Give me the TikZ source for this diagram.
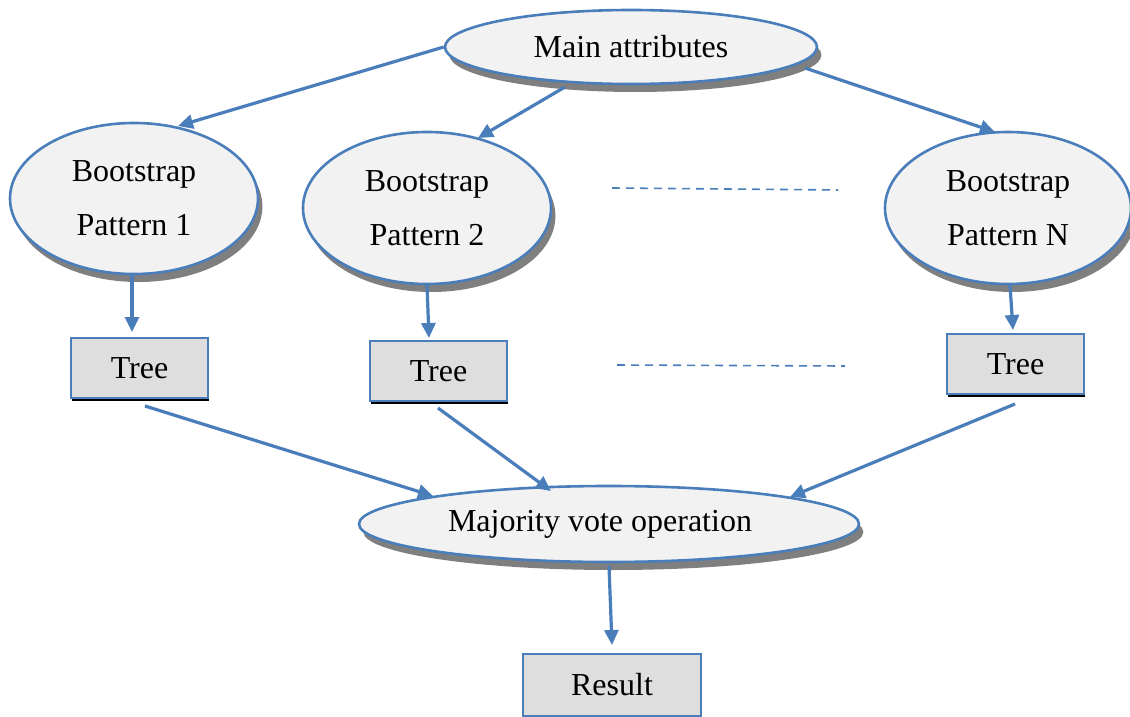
\documentclass[tikz,border=0pt]{standalone}
\usepackage{fontspec}
\setmainfont{Liberation Serif}
\usetikzlibrary{shapes.geometric,arrows.meta,calc,shadows}
\definecolor{edge}{HTML}{4A7EBB}
\definecolor{ovalfill}{HTML}{F2F2F2}
\definecolor{boxfill}{HTML}{DEDEDE}
\definecolor{shade}{HTML}{7F7F7F}
\begin{document}
\begin{tikzpicture}[x=0.5pt,y=-0.5pt,
  font=\fontsize{16}{27}\selectfont,
  ovalnode/.style={ellipse, draw=edge, line width=1.3pt, fill=ovalfill,
    inner sep=0pt, align=center,
    drop shadow={shadow xshift=2.2pt, shadow yshift=-4pt, fill=shade, opacity=1}},
  boxnode/.style={rectangle, draw=edge, line width=1.2pt, fill=boxfill, inner sep=0pt,
    drop shadow={shadow xshift=0.3pt, shadow yshift=-1.6pt, fill=black, opacity=1}},
  plainbox/.style={rectangle, draw=edge, line width=1.2pt, fill=boxfill, inner sep=0pt},
  link/.style={draw=edge, line width=1.6pt, -{Triangle[length=7.5pt,width=7pt]}},
  dots/.style={draw=edge, line width=0.8pt, dash pattern=on 4pt off 3pt}]

\useasboundingbox (0,0) rectangle (1130,717);

% ovals
\node[ovalnode, minimum width=186pt, minimum height=37pt] (main) at (631,47) {Main attributes};
\node[ovalnode, minimum width=124pt, minimum height=75.5pt] (b1) at (134,198.5) {Bootstrap\\Pattern 1};
\node[ovalnode, minimum width=124pt, minimum height=76pt] (b2) at (427,208) {Bootstrap\\Pattern 2};
\node[ovalnode, minimum width=123pt, minimum height=76pt] (bN) at (1008,208) {Bootstrap\\Pattern N};
\node[ovalnode, minimum width=250pt, minimum height=38pt] (maj) at (609,524) {Majority vote operation\hspace*{9pt}};

% boxes
\node[boxnode, minimum width=68.5pt, minimum height=30pt] (t1) at (139.5,368) {Tree};
\node[boxnode, minimum width=68.5pt, minimum height=30pt] (t2) at (438.5,371) {Tree};
\node[boxnode, minimum width=68.5pt, minimum height=30pt] (tN) at (1015.5,364) {Tree};
\node[plainbox, minimum width=89pt, minimum height=31pt] (res) at (612,685) {Result};

% ellipsis lines between the columns
\coordinate (d1a) at (612,188);
\coordinate (d1b) at (838,190);
\coordinate (d2a) at (617,365);
\coordinate (d2b) at (845,366);
\draw[dots] (d1a) -- (d1b);
\draw[dots] (d2a) -- (d2b);

% connectors
\draw[link] (main.west) -- ($(b1)+(44,-72.5)$);
\draw[link] ($(main)+(-66,40)$) -- ($(b2)+(51,-70)$);
\draw[link] ($(main)+(174,21)$) -- ($(bN)+(-13,-76)$);

\draw[link] ($(b1)+(-2,76.5)$) -- ($(t1)+(-7.5,-36)$);
\draw[link] ($(b2)+(0,77)$) -- ($(t2)+(-9.5,-33)$);
\draw[link] ($(bN)+(2,77)$) -- ($(tN)+(-2.5,-34)$);

\draw[link] ($(t1)+(5.5,38)$) -- ($(maj)+(-176,-28)$);
\draw[link] ($(t2)+(-0.5,37)$) -- ($(maj)+(-58,-33)$);
\draw[link] ($(tN)+(-0.5,40)$) -- ($(maj)+(181,-27)$);

\draw[link] ($(maj)+(0,42)$) -- ($(res)+(0,-40)$);
\end{tikzpicture}
\end{document}
